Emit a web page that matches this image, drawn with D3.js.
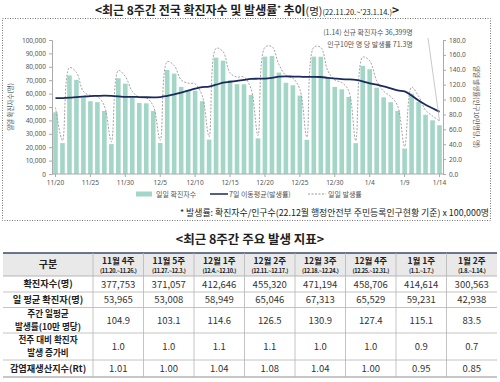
<!DOCTYPE html>
<html><head><meta charset="utf-8">
<script src="https://cdn.jsdelivr.net/npm/d3@7"></script>
<style>
body{margin:0;background:#fff;}
svg{display:block;font-family:"Noto Sans CJK KR","Noto Sans",sans-serif;}
</style></head>
<body><svg id="c" width="500" height="382"></svg>
<script>
const dates = ["11/20","11/21","11/22","11/23","11/24","11/25","11/26","11/27","11/28","11/29","11/30","12/1","12/2","12/3",
"12/4","12/5","12/6","12/7","12/8","12/9","12/10","12/11","12/12","12/13","12/14","12/15","12/16","12/17",
"12/18","12/19","12/20","12/21","12/22","12/23","12/24","12/25","12/26","12/27","12/28","12/29","12/30","12/31",
"1/1","1/2","1/3","1/4","1/5","1/6","1/7","1/8","1/9","1/10","1/11","1/12","1/13","1/14"];
const dailyCases = [46011,23091,73518,70212,57000,54300,53621,47028,22327,71476,67415,57079,52987,52745,
46990,23160,77604,74938,65000,62734,62220,54319,25667,86852,84571,69911,67000,67000,
59000,26600,87600,88000,75700,68100,66194,58500,25500,87600,87500,71400,65000,63206,
57500,23000,80700,78200,64400,57200,53614,47100,19000,60000,53800,44200,40064,36399];
const dailyRate = [89.4,44.9,142.9,136.5,110.8,105.6,104.2,91.4,43.4,138.9,131.1,111.0,103.0,102.5,
91.3,45.0,150.9,145.7,126.4,122.0,121.0,105.6,49.9,168.8,164.4,135.9,130.2,130.2,
114.7,51.7,170.3,171.1,147.2,132.4,128.7,113.7,49.6,170.3,170.1,138.8,126.4,122.9,
111.8,44.7,156.9,152.0,125.2,111.2,104.2,91.6,36.9,116.6,104.6,85.9,77.9,71.3];
const movingAvgRate = [101.8,102.0,102.5,103.3,104.0,104.6,104.9,105.2,105.0,104.4,103.6,103.7,103.3,103.1,
103.0,103.3,105.0,107.1,109.3,112.0,114.6,116.6,117.3,119.9,122.6,123.9,125.1,126.5,
127.7,128.0,128.2,129.2,130.8,131.1,130.9,130.7,130.4,130.4,130.3,129.1,128.2,127.4,
127.1,126.4,124.5,121.9,120.0,117.8,115.1,112.3,111.1,105.4,98.6,93.0,88.3,83.5];
const xTickLabels = ["11/20","11/25","11/30","12/5","12/10","12/15","12/20","12/25","12/30","1/4","1/9","1/14"];
const leftTicks = [0,10000,20000,30000,40000,50000,60000,70000,80000,90000,100000];
const rightTicks = [0,20,40,60,80,100,120,140,160,180];

const weekNames = ["11월 4주","11월 5주","12월 1주","12월 2주","12월 3주","12월 4주","1월 1주","1월 2주"];
const weekRanges = ["(11.20.~11.26.)","(11.27.~12.3.)","(12.4.~12.10.)","(12.11.~12.17.)","(12.18.~12.24.)","(12.25.~12.31.)","(1.1.~1.7.)","(1.8.~1.14.)"];
const rowLabels = [["확진자수(명)"],["일 평균 확진자(명)"],["주간 일평균","발생률(10만 명당)"],["전주 대비 확진자","발생 증가비"],["감염재생산지수(Rt)"]];
const weeklyCases = ["377,753","371,057","412,646","455,320","471,194","458,706","414,614","300,563"];
const weeklyAvg = ["53,965","53,008","58,949","65,046","67,313","65,529","59,231","42,938"];
const weeklyRate = ["104.9","103.1","114.6","126.5","130.9","127.4","115.1","83.5"];
const weeklyRatio = ["1.0","1.0","1.1","1.1","1.0","1.0","0.9","0.7"];
const weeklyRt = ["1.01","1.00","1.04","1.08","1.04","1.00","0.95","0.85"];

const svg = d3.select("#c");
const BAR = "#a4d6c7", NAVY = "#1b2a5c", GRAY = "#555";

// Title
const t = svg.append("text").attr("x",247).attr("y",15).attr("text-anchor","middle")
  .attr("font-weight","bold").attr("fill","#222");
t.append("tspan").attr("font-size",12).text("<최근 8주간 전국 확진자수 및 발생률");
t.append("tspan").attr("font-size",7).attr("dy",-4).text("*");
t.append("tspan").attr("font-size",12).attr("dy",4).text(" 추이");
t.append("tspan").attr("font-size",10.5).attr("font-weight","normal").text("(명)");
t.append("tspan").attr("font-size",7.5).attr("font-weight","normal").text("(22.11.20.~'23.1.14.)");
t.append("tspan").attr("font-size",12).text(">");

// dotted frame
svg.append("rect").attr("x",2.5).attr("y",18.5).attr("width",488).attr("height",202)
  .attr("fill","none").attr("stroke","#777").attr("stroke-dasharray","1,1.5");

const x = d3.scaleBand().domain(dates).range([52,443]).paddingInner(0.34).paddingOuter(0.17);
const yL = d3.scaleLinear().domain([0,100000]).range([174,40]);
const yR = d3.scaleLinear().domain([0,180]).range([174,40]);

// bars
svg.append("g").selectAll("rect").data(dailyCases).join("rect")
  .attr("x",(d,i)=>x(dates[i])).attr("width",x.bandwidth())
  .attr("y",d=>yL(d)).attr("height",d=>yL(0)-yL(d)).attr("fill",BAR);

// axes
const axL = svg.append("g").attr("transform","translate(52,0)")
  .call(d3.axisLeft(yL).tickValues(leftTicks).tickSize(3).tickFormat(d3.format(",")));
const axR = svg.append("g").attr("transform","translate(443,0)")
  .call(d3.axisRight(yR).tickValues(rightTicks).tickSize(3).tickFormat(d3.format(".1f")));
const axB = svg.append("g").attr("transform","translate(0,174)")
  .call(d3.axisBottom(x).tickValues(xTickLabels).tickSize(3).tickPadding(3));
[axL,axR,axB].forEach(a=>{
  a.selectAll("path,line").attr("stroke","#aaa");
  a.selectAll("text").attr("font-size",6.5).attr("fill",GRAY).attr("font-family","Noto Sans, sans-serif");
});
axB.select("path").attr("d","M52,0H443");

// dashed daily rate
const cx = i => x(dates[i]) + x.bandwidth()/2;
svg.append("path").datum(dailyRate)
  .attr("d", d3.line().x((d,i)=>cx(i)).y(d=>yR(d)).curve(d3.curveCatmullRom.alpha(0.5)))
  .attr("fill","none").attr("stroke","#999").attr("stroke-width",0.9).attr("stroke-dasharray","2,1.5");

// moving average
svg.append("path").datum(movingAvgRate)
  .attr("d", d3.line().x((d,i)=>cx(i)).y(d=>yR(d)).curve(d3.curveMonotoneX))
  .attr("fill","none").attr("stroke",NAVY).attr("stroke-width",1.8);

// axis titles
svg.append("text").attr("transform","translate(13,107) rotate(-90)").attr("text-anchor","middle")
  .attr("font-size",6.5).attr("fill",GRAY).text("일일 확진자수(명)");
svg.append("text").attr("transform","translate(474,107) rotate(90)").attr("text-anchor","middle")
  .attr("font-size",6.5).attr("fill",GRAY).text("일일 발생률(인구10만명당, 명)");

// annotation
const last = dates.length-1;
svg.append("text").attr("x",368).attr("y",35).attr("text-anchor","middle").attr("font-size",7).attr("fill",GRAY)
  .text("(1.14) 신규 확진자수 36,399명");
svg.append("text").attr("x",370).attr("y",47).attr("text-anchor","middle").attr("font-size",7).attr("fill",GRAY)
  .text("인구10만 명 당 발생률 71.3명");
svg.append("line").attr("x1",428).attr("y1",38).attr("x2",cx(last)).attr("y2",yR(dailyRate[last]))
  .attr("stroke","#bbb").attr("stroke-width",0.8);

// legend
const lg = svg.append("g").attr("font-size",7).attr("fill",GRAY);
lg.append("rect").attr("x",136).attr("y",191.5).attr("width",16).attr("height",5).attr("fill",BAR);
lg.append("text").attr("x",156).attr("y",196.5).text("일일 확진자수");
lg.append("line").attr("x1",210).attr("x2",228).attr("y1",194).attr("y2",194).attr("stroke",NAVY).attr("stroke-width",1.5);
lg.append("text").attr("x",229).attr("y",196.5).text("7일 이동평균(발생률)");
lg.append("line").attr("x1",308).attr("x2",326).attr("y1",194).attr("y2",194).attr("stroke","#999").attr("stroke-dasharray","2,1.5");
lg.append("text").attr("x",328).attr("y",196.5).text("일일 발생률");

// footnote
svg.append("text").attr("x",489).attr("y",216).attr("text-anchor","end").attr("font-size",8.9).attr("fill","#222")
  .text("* 발생률: 확진자수/인구수(22.12월 행정안전부 주민등록인구현황 기준) x 100,000명");

// table title
svg.append("text").attr("x",250).attr("y",244).attr("text-anchor","middle").attr("font-size",12.5)
  .attr("font-weight","bold").attr("fill","#222").text("<최근 8주간 주요 발생 지표>");

// table
const rowsData = [weeklyCases, weeklyAvg, weeklyRate, weeklyRatio, weeklyRt];
const rowEdges = [253,276,292,307.5,333,360,377];
const colX = d3.scaleBand().domain(weekNames).range([93,497]);
const tb = svg.append("g");
tb.append("rect").attr("x",3).attr("y",rowEdges[0]).attr("width",494).attr("height",rowEdges[1]-rowEdges[0]).attr("fill","#e9e9e9");
rowEdges.forEach((y,i)=>{
  tb.append("line").attr("x1",3).attr("x2",497).attr("y1",y).attr("y2",y)
    .attr("stroke", i===0 ? "#3b4a6b" : "#b5b5b5").attr("stroke-width", (i===0||i===rowEdges.length-1)?1.6:(i===1?1.2:0.8));
});
const vx = [93].concat(weekNames.map(w=>colX(w)+colX.bandwidth()));
vx.slice(0,-1).forEach(xx=>{
  tb.append("line").attr("x1",xx).attr("x2",xx).attr("y1",rowEdges[0]).attr("y2",rowEdges[rowEdges.length-1])
    .attr("stroke","#b5b5b5").attr("stroke-width",0.8);
});
tb.append("text").attr("x",48).attr("y",268).attr("text-anchor","middle").attr("font-size",10).attr("font-weight","bold").attr("fill","#222").text("구분");
weekNames.forEach((w,i)=>{
  const cxx = colX(w)+colX.bandwidth()/2;
  tb.append("text").attr("x",cxx).attr("y",264).attr("text-anchor","middle").attr("font-size",8.5).attr("font-weight","bold").attr("fill","#222").text(w);
  tb.append("text").attr("x",cxx).attr("y",272.5).attr("text-anchor","middle").attr("font-size",5.6).attr("font-weight","bold")
    .attr("fill","#222").attr("letter-spacing",-0.3).text(weekRanges[i]);
});
rowLabels.forEach((lab,r)=>{
  const y0 = rowEdges[r+1], y1 = rowEdges[r+2], mid=(y0+y1)/2;
  const two = lab.length > 1;
  const fs = two ? 8.6 : 9.2, lh = 12.6;
  const lt = tb.append("text").attr("text-anchor","middle").attr("font-size",fs).attr("font-weight","bold").attr("fill","#222")
    .attr("y", mid + 3.1 - (lab.length-1)/2*lh);
  lab.forEach((s,k)=>{
    lt.append("tspan").attr("x",48).attr("dy", k===0 ? 0 : lh).text(s);
  });
  rowsData[r].forEach((v,i)=>{
    tb.append("text").attr("x",colX(weekNames[i])+colX.bandwidth()/2).attr("y",mid+3.5)
      .attr("text-anchor","middle").attr("font-size",9.5).attr("fill","#333").text(v);
  });
});
</script></body></html>
